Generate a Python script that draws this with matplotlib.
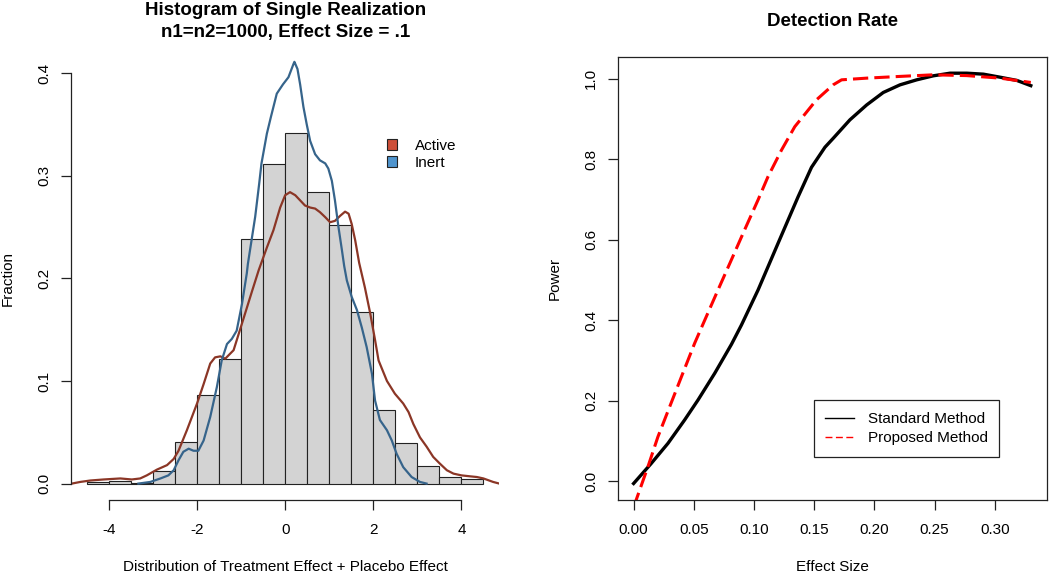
import numpy as np
import matplotlib.pyplot as plt
from matplotlib.lines import Line2D
from matplotlib.patches import Patch

plt.rcParams['font.family'] = ['Liberation Sans', 'DejaVu Sans']

# ---------- left panel: histogram + densities ----------
bin_left = [-4.5, -4.0, -3.5, -3.0, -2.5, -2.0, -1.5, -1.0, -0.5,
            0.0, 0.5, 1.0, 1.5, 2.0, 2.5, 3.0, 3.5, 4.0]
frac = [0.002, 0.003, 0.001, 0.012, 0.041, 0.086, 0.121, 0.238, 0.311,
        0.342, 0.284, 0.252, 0.167, 0.072, 0.040, 0.017, 0.006, 0.004]

active_x = [-4.84, -4.65, -4.42, -4.12, -3.74, -3.48, -3.29, -3.14, -2.91, -2.68,
            -2.53, -2.42, -2.23, -2.0, -1.85, -1.70, -1.59, -1.47, -1.36, -1.17,
            -0.98, -0.755, -0.6, -0.415, -0.265, -0.113, 0.0, 0.11, 0.23, 0.34,
            0.45, 0.567, 0.68, 0.79, 0.91, 1.02, 1.13, 1.25, 1.36, 1.44,
            1.51, 1.59, 1.68, 1.81, 1.93, 2.04, 2.12, 2.31, 2.49, 2.68,
            2.80, 2.91, 3.06, 3.21, 3.36, 3.51, 3.67, 3.82, 4.0, 4.19,
            4.35, 4.50, 4.72, 4.86]
active_y = [0.0, 0.0016, 0.003, 0.004, 0.005, 0.004, 0.005, 0.008, 0.0136, 0.018,
            0.024, 0.032, 0.052, 0.078, 0.097, 0.117, 0.123, 0.124, 0.1217, 0.130,
            0.156, 0.187, 0.208, 0.230, 0.247, 0.269, 0.281, 0.284, 0.281, 0.276,
            0.271, 0.269, 0.268, 0.2645, 0.2596, 0.2547, 0.256, 0.261, 0.265, 0.263,
            0.253, 0.237, 0.215, 0.191, 0.166, 0.140, 0.120, 0.100, 0.0876, 0.078,
            0.0697, 0.058, 0.045, 0.036, 0.026, 0.0195, 0.013, 0.0097, 0.008, 0.0071,
            0.0064, 0.005, 0.0016, 0.0]

inert_x = [-3.33, -3.06, -2.83, -2.65, -2.53, -2.42, -2.31, -2.19, -2.08, -1.97,
           -1.85, -1.70, -1.55, -1.44, -1.32, -1.21, -1.10, -0.98, -0.87, -0.846,
           -0.68, -0.59, -0.537, -0.415, -0.325, -0.19, -0.05, 0.075, 0.19, 0.21,
           0.28, 0.34, 0.415, 0.49, 0.567, 0.68, 0.79, 0.91, 0.98, 1.06,
           1.13, 1.21, 1.29, 1.34, 1.40, 1.51, 1.63, 1.74, 1.85, 1.97,
           2.04, 2.15, 2.31, 2.42, 2.53, 2.68, 2.87, 3.06, 3.21]
inert_y = [0.0, 0.0016, 0.005, 0.008, 0.013, 0.0227, 0.031, 0.034, 0.032, 0.032,
           0.042, 0.065, 0.094, 0.120, 0.136, 0.141, 0.149, 0.175, 0.205, 0.214,
           0.260, 0.292, 0.312, 0.341, 0.357, 0.380, 0.389, 0.396, 0.409, 0.411,
           0.404, 0.389, 0.367, 0.350, 0.334, 0.321, 0.315, 0.312, 0.307, 0.295,
           0.276, 0.250, 0.227, 0.212, 0.198, 0.182, 0.169, 0.152, 0.133, 0.107,
           0.081, 0.062, 0.052, 0.042, 0.029, 0.016, 0.0064, 0.0016, 0.0]

# ---------- right panel: power curves ----------
std_x = [0.0, 0.0147, 0.0286, 0.0424, 0.0535, 0.0674, 0.0813, 0.0896, 0.1034, 0.12,
         0.1367, 0.1478, 0.159, 0.1658, 0.1797, 0.1936, 0.2074, 0.2213, 0.2352, 0.249,
         0.2629, 0.2768, 0.2906, 0.3045, 0.3184, 0.33]
std_y = [-0.006, 0.044, 0.094, 0.152, 0.2015, 0.268, 0.340, 0.388, 0.475, 0.591,
         0.707, 0.780, 0.830, 0.852, 0.898, 0.935, 0.966, 0.985, 0.9975, 1.0075,
         1.014, 1.014, 1.0116, 1.004, 0.996, 0.983]

prop_x = [0.0, 0.0119, 0.0202, 0.030, 0.0397, 0.0507, 0.0591, 0.0701, 0.0805, 0.0923,
          0.1034, 0.1117, 0.1229, 0.1339, 0.152, 0.1658, 0.1728, 0.1936, 0.2213, 0.249,
          0.2768, 0.3045, 0.33]
prop_y = [-0.065, 0.0356, 0.110, 0.185, 0.259, 0.3425, 0.400, 0.475, 0.545, 0.625,
          0.699, 0.757, 0.823, 0.881, 0.948, 0.985, 0.9975, 1.0017, 1.006, 1.010,
          1.008, 1.0017, 0.991]

W, H = 1050, 572
fig = plt.figure(figsize=(W / 100, H / 100), dpi=100)
ax1 = fig.add_axes([71 / W, 72 / H, 428.3 / W, 443.3 / H])
ax2 = fig.add_axes([617.7 / W, 72 / H, 429 / W, 443.3 / H])

# ---- left
ax1.bar(bin_left, frac, width=0.5, align='edge', color='#D3D3D3',
        edgecolor='#222222', linewidth=0.8)
ax1.plot(active_x, active_y, color='#8B3626', lw=1.6)
ax1.plot(inert_x, inert_y, color='#36648B', lw=1.6)
ax1.set_xlim(-4.86, 4.86)
ax1.set_ylim(-0.016, 0.416)
ax1.set_xticks([-4, -2, 0, 2, 4])
ax1.set_xticklabels(['-4', '-2', '0', '2', '4'])
ax1.set_yticks([0.0, 0.1, 0.2, 0.3, 0.4])
ax1.set_yticklabels(['0.0', '0.1', '0.2', '0.3', '0.4'], rotation=90, va='center')
for s in ['top', 'right']:
    ax1.spines[s].set_visible(False)
ax1.spines['left'].set_bounds(0, 0.4)
ax1.spines['bottom'].set_bounds(-4, 4)
ax1.set_title('Histogram of Single Realization\nn1=n2=1000, Effect Size = .1',
              fontsize=13.5, fontweight='bold', pad=14.4, linespacing=1.35)
ax1.set_xlabel('Distribution of Treatment Effect + Placebo Effect', fontsize=11)
ax1.set_ylabel('Fraction', fontsize=11)
ax1.legend(handles=[Patch(facecolor='#CD4F39', edgecolor='#222222', lw=0.8, label='Active'),
                    Patch(facecolor='#4F94CD', edgecolor='#222222', lw=0.8, label='Inert')],
           loc='upper left', bbox_to_anchor=(0.737, 0.815), frameon=False, fontsize=11,
           handlelength=0.7, handleheight=0.7, handletextpad=1.15, labelspacing=0.2,
           borderpad=0, borderaxespad=0)

# ---- right
ax2.plot(std_x, std_y, color='black', lw=2.4)
ax2.plot(prop_x, prop_y, color='red', lw=2.2, dashes=(5, 2))
ax2.set_xlim(-0.0132, 0.3432)
ax2.set_ylim(-0.047, 1.055)
ax2.set_xticks([0.0, 0.05, 0.10, 0.15, 0.20, 0.25, 0.30])
ax2.set_xticklabels(['0.00', '0.05', '0.10', '0.15', '0.20', '0.25', '0.30'])
ax2.set_yticks([0.0, 0.2, 0.4, 0.6, 0.8, 1.0])
ax2.set_yticklabels(['0.0', '0.2', '0.4', '0.6', '0.8', '1.0'], rotation=90, va='center')
ax2.set_title('Detection Rate', fontsize=13.5, fontweight='bold', pad=22.3)
ax2.set_xlabel('Effect Size', fontsize=11)
ax2.set_ylabel('Power', fontsize=11)
leg = ax2.legend(handles=[Line2D([], [], color='black', lw=1),
                          Line2D([], [], color='red', lw=1, dashes=(5, 2.5))],
                 labels=['Standard Method', 'Proposed Method'],
                 loc='lower left', bbox_to_anchor=(0.4576, 0.0977), fontsize=11,
                 fancybox=False, framealpha=1, edgecolor='#222222',
                 handlelength=1.9, handletextpad=0.87, labelspacing=0.35,
                 borderpad=0.75, borderaxespad=0)
leg.get_frame().set_linewidth(0.9)

for ax in (ax1, ax2):
    for s in ax.spines.values():
        s.set_linewidth(0.9)
        s.set_color('#222222')
    ax.tick_params(direction='out', length=7.2, width=0.9, color='#222222',
                   labelsize=11)
    ax.tick_params(axis='x', pad=9.4)
    ax.tick_params(axis='y', pad=7)
    ax.xaxis.set_label_coords(0.5, -0.160)
    ax.xaxis.label.set_va('baseline')
    ax.yaxis.set_label_coords(-0.138, 0.5)
    ax.yaxis.label.set_va('baseline')

fig.savefig('out.png', dpi=100)
